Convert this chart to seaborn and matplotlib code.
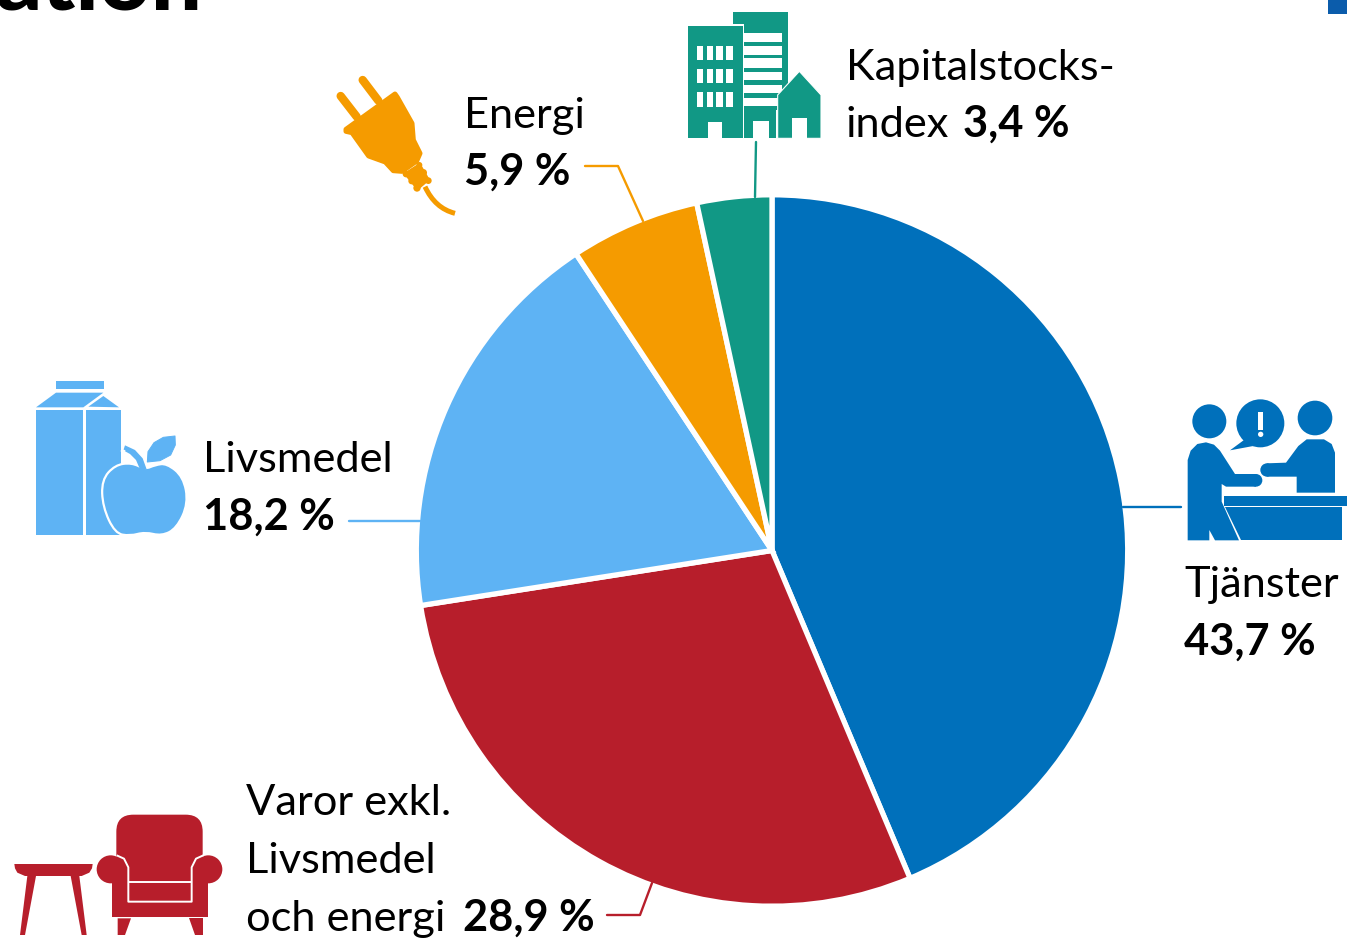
import matplotlib
matplotlib.use("Agg")
import matplotlib.pyplot as plt
from matplotlib.patches import Circle, FancyBboxPatch, PathPatch, Polygon, Rectangle
from matplotlib.path import Path
import seaborn as sns

# ── Data ──────────────────────────────────────────────────────────────────────
categories = ["Tjänster", "Varor exkl. Livsmedel och energi", "Livsmedel", "Energi", "Kapitalstocksindex"]
shares = [43.7, 28.9, 18.2, 5.9, 3.4]
share_labels = ["43,7 %", "28,9 %", "18,2 %", "5,9 %", "3,4 %"]

BLUE, RED, LIGHT, ORANGE, TEAL = "#0070BB", "#B71E2B", "#5EB3F4", "#F59B00", "#119885"
colors = sns.color_palette([BLUE, RED, LIGHT, ORANGE, TEAL])

W, H = 1347, 940
sns.set_theme(style="white")
plt.rcParams["font.family"] = ["Lato", "DejaVu Sans"]

fig = plt.figure(figsize=(W / 100, H / 100), dpi=100, facecolor="white")

# ── Pie ───────────────────────────────────────────────────────────────────────
cx, cy, r = 772, 550.5, 355.7
pie_ax = fig.add_axes([(cx - r) / W, 1 - (cy + r) / H, 2 * r / W, 2 * r / H])
pie_ax.pie(shares, colors=colors, startangle=90, counterclock=False, radius=1,
           wedgeprops={"edgecolor": "white", "linewidth": 3.8, "clip_on": False})
pie_ax.set_xlim(-1, 1)
pie_ax.set_ylim(-1, 1)

# overlay in image pixels for labels and icons
ax = fig.add_axes([0, 0, 1, 1], zorder=5)
ax.set_xlim(0, W)
ax.set_ylim(H, 0)
ax.axis("off")
ax.patch.set_alpha(0)


def z(points, ox, oy):
    """Zoomed crop coords (3x) to image pixels."""
    return [(ox + x / 3, oy + y / 3) for x, y in points]


def poly(points, ox, oy, color, round_px=0, **kw):
    # a stroke in the fill colour gives the rounded corners of the icons
    ax.add_patch(Polygon(z(points, ox, oy), closed=True, fc=color,
                         ec=color if round_px else "none", lw=round_px * 0.72, joinstyle="round", **kw))


def rect(x0, y0, x1, y1, ox, oy, color):
    (a, b), (c, d) = z([(x0, y0), (x1, y1)], ox, oy)
    ax.add_patch(Rectangle((a, b), c - a, d - b, fc=color, ec="none"))


def circ(x, y, rad, ox, oy, color):
    ax.add_patch(Circle(z([(x, y)], ox, oy)[0], rad / 3, fc=color, ec="none"))


def smooth(points, ox, oy, color, **kw):
    """Closed blob through the midpoints of the given control points."""
    pts = z(points, ox, oy)
    n = len(pts)
    mids = [((pts[i][0] + pts[(i + 1) % n][0]) / 2, (pts[i][1] + pts[(i + 1) % n][1]) / 2) for i in range(n)]
    verts, codes = [mids[-1]], [Path.MOVETO]
    for i in range(n):
        verts += [pts[i], mids[i]]
        codes += [Path.CURVE3, Path.CURVE3]
    ax.add_patch(PathPatch(Path(verts, codes), fc=color, **({"ec": "none"} | kw)))


def line(points, ox, oy, color, lw, cap="butt"):
    xs, ys = zip(*z(points, ox, oy))
    ax.plot(xs, ys, color=color, lw=lw, solid_capstyle=cap)


# ── Leader lines ──────────────────────────────────────────────────────────────
LW = 1.7
ax.plot([1123, 1181], [506.5, 506.5], color=BLUE, lw=LW)
ax.plot([349, 420], [521, 521], color=LIGHT, lw=LW)
ax.plot([607, 640, 652], [915, 915, 883], color=RED, lw=LW)
ax.plot([585, 618, 643], [166, 166, 221], color=ORANGE, lw=LW)
ax.plot([756, 755], [142, 197], color=TEAL, lw=LW)

# ── Text ──────────────────────────────────────────────────────────────────────
FS = 31.2


def label(x, y, s, bold=False):
    ax.text(x, y, s, fontsize=FS, color="black", va="baseline", ha="left",
            fontweight="bold" if bold else "normal")


label(846, 80, "Kapitalstocks-")
label(846, 137, "index")
label(963, 137, share_labels[4], True)
label(464, 128, "Energi")
label(464, 185, share_labels[3], True)
label(203, 472, "Livsmedel")
label(203, 530, share_labels[2], True)
label(1184, 597, "Tjänster")
label(1184, 655, share_labels[0], True)
label(246, 815, "Varor exkl.")
label(246, 873, "Livsmedel")
label(246, 931, "och energi")
label(463, 931, share_labels[1], True)

# cut-off slide title and corner block from the source slide
ax.text(-5, 10, "ation", fontsize=65, fontweight=900, color="black", va="baseline", ha="left")
ax.add_patch(Rectangle((1328, -2), 25, 16, fc="#0B5CAB", ec="none"))

# ── Icon: building ────────────────────────────────────────────────────────────
ox, oy = 320, 0
rect(1238, 36, 1405, 330, ox, oy, TEAL)
for y0, y1 in [(98, 125), (137, 165), (175, 205), (215, 240), (255, 280), (295, 318)]:
    rect(1272, y0, 1385, y1, ox, oy, "white")
rect(1238, 72, 1272, 78, ox, oy, "white")
rect(1268, 72, 1272, 415, ox, oy, "white")
rect(1104, 78, 1268, 415, ox, oy, TEAL)
for wx0, wx1 in [(1131, 1150), (1160, 1180), (1189, 1208), (1218, 1238)]:
    for wy0, wy1 in [(137, 180), (206, 250), (275, 320)]:
        rect(wx0, wy0, wx1, wy1, ox, oy, "white")
rect(1163, 365, 1207, 417, ox, oy, "white")
rect(1272, 318, 1368, 415, ox, oy, TEAL)
rect(1298, 362, 1346, 417, ox, oy, "white")
ax.add_patch(Polygon(z([(1373, 285), (1438, 214), (1503, 285), (1503, 415), (1373, 415)], ox, oy),
                     closed=True, fc=TEAL, ec="white", lw=0.8))
rect(1416, 355, 1461, 417, ox, oy, "white")

# ── Icon: plug ────────────────────────────────────────────────────────────────
line([(62, 288), (110, 350)], ox, oy, ORANGE, 6, cap="round")
line([(128, 240), (175, 302)], ox, oy, ORANGE, 6, cap="round")
poly([(78, 388), (225, 282), (232, 292), (276, 370), (280, 420), (300, 460), (290, 483), (246, 514),
      (220, 512), (196, 486), (146, 468), (96, 398), (78, 394)], ox, oy, ORANGE, round_px=5)
poly([(250, 520), (300, 488), (330, 540), (292, 572)], ox, oy, ORANGE)
for kx, ky, kr in [(298, 495, 9), (310, 518, 11), (325, 542, 10), (258, 522, 10), (275, 543, 10), (291, 564, 11)]:
    circ(kx, ky, kr, ox, oy, ORANGE)
verts = z([(315, 560), (345, 625), (405, 640)], ox, oy)
ax.add_patch(PathPatch(Path(verts, [Path.MOVETO, Path.CURVE3, Path.CURVE3]), fc="none", ec=ORANGE, lw=3.6))

# ── Icon: people at a desk ────────────────────────────────────────────────────
ox, oy = 1120, 380
circ(268, 124, 51, ox, oy, BLUE)
circ(585, 114, 52, ox, oy, BLUE)
circ(421, 130, 72, ox, oy, BLUE)
poly([(372, 180), (330, 211), (400, 198)], ox, oy, BLUE)
rect(414, 96, 430, 150, ox, oy, "white")
circ(422, 163, 8, ox, oy, "white")
poly([(203, 240), (203, 481), (268, 481), (268, 450), (285, 481), (357, 481), (305, 365), (305, 312),
      (318, 320), (408, 320), (408, 282), (345, 282), (300, 212), (282, 194), (258, 187), (232, 192), (212, 212)],
     ox, oy, BLUE)
circ(408, 301, 19, ox, oy, BLUE)
poly([(530, 338), (530, 290), (440, 290), (440, 250), (498, 248), (535, 198), (560, 178), (612, 178),
      (635, 192), (645, 218), (645, 338)], ox, oy, BLUE)
circ(441, 270, 20, ox, oy, BLUE)
rect(312, 347, 680, 377, ox, oy, BLUE)
poly([(316, 382), (666, 382), (666, 481), (364, 481)], ox, oy, BLUE)

# ── Icon: milk carton and apple ───────────────────────────────────────────────
ox, oy = 20, 370
rect(109, 33, 251, 58, ox, oy, LIGHT)
poly([(48, 112), (108, 68), (250, 68), (190, 112)], ox, oy, LIGHT)
poly([(205, 110), (250, 78), (297, 112)], ox, oy, LIGHT)
rect(48, 120, 190, 495, ox, oy, LIGHT)
rect(198, 120, 302, 495, ox, oy, LIGHT)
smooth([(375, 298), (335, 278), (285, 285), (245, 330), (248, 410), (285, 490), (330, 498), (375, 486),
        (425, 498), (470, 475), (505, 400), (490, 320), (440, 280), (405, 285)], ox, oy, LIGHT, ec="white", lw=1.6)
line([(303, 240), (315, 245)], ox, oy, "white", 2)
poly([(315, 226), (345, 240), (368, 265), (380, 298), (360, 298), (348, 270), (330, 252), (310, 241)], ox, oy, LIGHT)
poly([(465, 198), (466, 225), (452, 255), (420, 272), (382, 276), (384, 245), (402, 218), (430, 202)],
     ox, oy, LIGHT, round_px=1)

# ── Icon: armchair and table ──────────────────────────────────────────────────
ox, oy = 0, 780
a, b = z([(349, 104)], ox, oy)[0]
c, d = z([(608, 310)], ox, oy)[0]
ax.add_patch(FancyBboxPatch((a + 17, b + 17), c - a - 34, d - b - 17,
                            boxstyle="round,pad=17,rounding_size=17", fc=RED, ec="none", mutation_aspect=1))
rect(335, 290, 625, 412, ox, oy, RED)
circ(332, 268, 42, ox, oy, RED)
circ(625, 268, 42, ox, oy, RED)
line([(350, 226), (372, 236), (385, 262), (385, 365), (575, 365), (575, 262), (588, 236), (610, 226)],
     ox, oy, "white", 1.4)
line([(385, 307), (575, 307)], ox, oy, "white", 1.4)
poly([(353, 415), (393, 415), (375, 465), (353, 465)], ox, oy, RED)
poly([(568, 415), (608, 415), (608, 465), (585, 465)], ox, oy, RED)
poly([(43, 252), (278, 252), (276, 265), (268, 278), (245, 288), (75, 288), (52, 278), (45, 265)], ox, oy, RED)
poly([(82, 288), (108, 288), (75, 465), (60, 465)], ox, oy, RED)
poly([(212, 288), (238, 288), (260, 465), (245, 465)], ox, oy, RED)

fig.savefig("out.png", dpi=100)
